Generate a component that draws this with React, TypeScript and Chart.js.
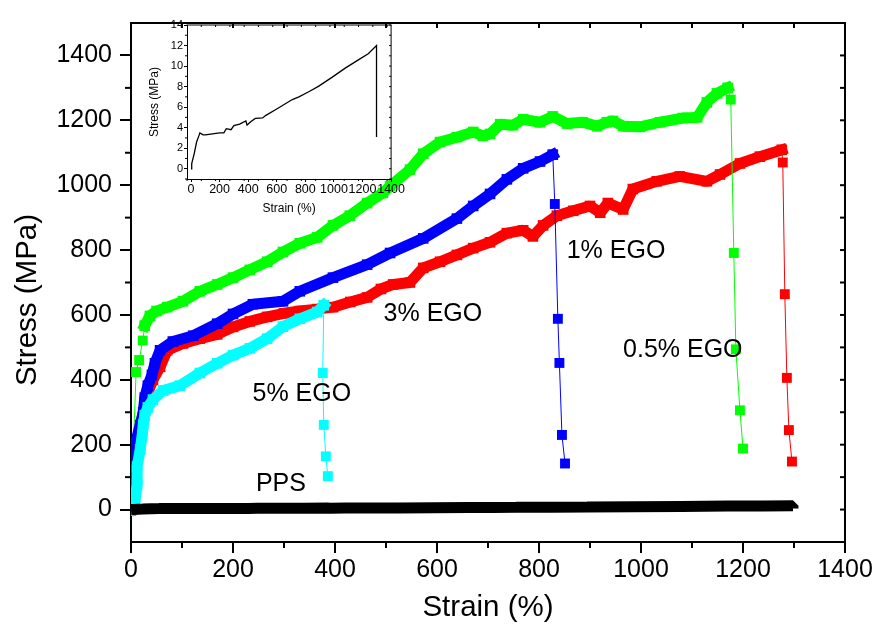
import React, { useEffect, useRef } from 'react';
import { Chart, registerables } from 'chart.js';

Chart.register(...registerables);

const FONT = '"Liberation Sans", Arial, Helvetica, sans-serif';

// ---------- tick labels ----------
const mainXTicks = [0, 200, 400, 600, 800, 1000, 1200, 1400];
const mainYTicks = [0, 200, 400, 600, 800, 1000, 1200, 1400];
const insetXTicks = [0, 200, 400, 600, 800, 1000, 1200, 1400];
const insetYTicks = [0, 2, 4, 6, 8, 10, 12, 14];

// ---------- PPS (strain %, stress MPa) ----------
const ppsStrain = [0, 5, 23, 39, 55, 62, 85, 100, 150, 200, 230, 247, 280, 300, 340, 384, 392, 420, 450, 501, 524, 594, 663, 709, 755, 824, 894, 986, 1079, 1171, 1240, 1298, 1298];
const ppsStress = [0, 0.5, 1.5, 2.6, 3.2, 3.48, 3.3, 3.3, 3.4, 3.5, 3.5, 3.9, 3.8, 4.2, 4.35, 4.65, 4.25, 4.6, 4.9, 4.95, 5.2, 5.77, 6.35, 6.74, 7.0, 7.5, 8.05, 8.9, 9.8, 10.6, 11.2, 12.0, 3.1];

// ---------- 0.5% EGO (green) ----------
const green05Rise = [[0, 0], [10, 424], [16, 461], [23, 521], [27, 567]];
const green05Band = [[27, 567], [37, 597], [50, 612], [71, 624], [102, 642], [135, 673], [169, 694], [200, 715], [233, 739], [267, 764], [298, 794], [331, 821], [365, 839], [396, 876], [429, 906], [463, 945], [494, 976], [508, 997], [547, 1048], [573, 1097], [606, 1133], [639, 1148], [671, 1164], [690, 1152], [704, 1158], [724, 1188], [749, 1185], [769, 1203], [802, 1194], [827, 1212], [855, 1190], [886, 1194], [914, 1182], [933, 1194], [945, 1198], [965, 1182], [998, 1180], [1037, 1194], [1082, 1207], [1110, 1209], [1129, 1255], [1149, 1283], [1170, 1300]];
const green05Drop = [[1170, 1300], [1176, 1264], [1182, 791], [1186, 494], [1194, 306], [1200, 188]];

// ---------- 3% EGO (red) ----------
const red3Band = [[0, 0], [6, 100], [12, 200], [18, 250], [24, 300], [33, 360], [43, 400], [57, 440], [71, 491], [102, 512], [135, 527], [169, 540], [200, 563], [233, 580], [267, 594], [300, 605], [331, 612], [365, 618], [396, 624], [430, 640], [463, 654], [490, 680], [514, 694], [547, 700], [573, 745], [606, 764], [639, 785], [671, 806], [704, 824], [737, 852], [769, 861], [788, 842], [808, 876], [835, 906], [867, 921], [900, 936], [920, 915], [935, 945], [965, 925], [984, 988], [1031, 1012], [1076, 1027], [1129, 1012], [1155, 1033], [1194, 1067], [1233, 1088], [1276, 1109]];
const red3Drop = [[1276, 1109], [1278, 1070], [1282, 664], [1286, 406], [1290, 245], [1296, 148]];

// ---------- 1% EGO (blue) ----------
const blue1Band = [[0, 0], [4, 120], [8, 200], [18, 261], [24, 300], [27, 345], [33, 382], [41, 415], [47, 451], [57, 491], [82, 518], [122, 536], [169, 573], [200, 603], [239, 633], [298, 642], [331, 673], [396, 715], [463, 755], [508, 791], [573, 836], [639, 897], [671, 936], [704, 973], [737, 1018], [769, 1052], [802, 1073], [827, 1094]];
const blue1Drop = [[827, 1094], [831, 942], [837, 588], [840, 452], [845, 230], [851, 142]];

// ---------- 5% EGO (cyan) ----------
const cyan5Band = [[0, 0], [8, 27], [12, 79], [12, 133], [18, 185], [22, 230], [24, 261], [27, 291], [33, 315], [43, 339], [63, 367], [96, 382], [135, 421], [169, 451], [200, 476], [233, 497], [267, 527], [298, 564], [331, 588], [365, 609], [378, 630]];
const cyan5Drop = [[378, 630], [376, 421], [378, 261], [382, 164], [386, 103]];

// ---------- annotations ----------
const labelTexts = ['1% EGO', '3% EGO', '0.5% EGO', '5% EGO', 'PPS'];
const labelX = [951, 592, 1082, 335, 294];
const labelY = [797, 603, 491, 355, 79];

const pairs = (a: number[][]) => a.map(([x, y]) => ({ x, y }));
const plain = (v: any) => String(v);

const frameTicks = {
  id: 'frameTicks',
  afterDraw(chart: any, _args: any, o: any) {
    const { ctx, chartArea: a, scales } = chart;
    const x = scales.x, y = scales.y;
    ctx.save();
    ctx.strokeStyle = '#000';
    ctx.lineWidth = o.lineWidth;
    const seg = (x1: number, y1: number, x2: number, y2: number) => {
      ctx.beginPath(); ctx.moveTo(x1, y1); ctx.lineTo(x2, y2); ctx.stroke();
    };
    seg(a.left - o.lineWidth / 2, a.top, a.right + o.lineWidth / 2, a.top);
    seg(a.right, a.top, a.right, a.bottom);
    for (let v = o.xFrom; v <= o.xTo + 1e-9; v += o.xStep) {
      const px = x.getPixelForValue(v);
      const isMajor = Math.abs(v / o.xMajor - Math.round(v / o.xMajor)) < 1e-6;
      if (!isMajor) seg(px, a.bottom, px, a.bottom + o.minorLen);
      if (v > o.xFrom && v < o.xTo) seg(px, a.top, px, a.top + o.innerLen);
    }
    for (let v = o.yFrom; v <= o.yTo + 1e-9; v += o.yStep) {
      const py = y.getPixelForValue(v);
      const isMajor = Math.abs(v / o.yMajor - Math.round(v / o.yMajor)) < 1e-6;
      if (!isMajor) seg(a.left, py, a.left - o.minorLen, py);
      seg(a.right, py, a.right - o.innerLen, py);
    }
    ctx.restore();
  },
};

const textLayer = {
  id: 'textLayer',
  afterDraw(chart: any, _args: any, o: any) {
    if (!o.enabled) return;
    const { ctx, scales } = chart;
    ctx.save();
    ctx.fillStyle = '#000';
    ctx.font = `${o.size}px ${FONT}`;
    ctx.textAlign = 'center';
    ctx.textBaseline = 'middle';
    labelTexts.forEach((t, i) => {
      ctx.fillText(t, scales.x.getPixelForValue(labelX[i]), scales.y.getPixelForValue(labelY[i]));
    });
    ctx.font = `${o.titleSize}px ${FONT}`;
    ctx.translate(o.titleX, o.titleY);
    ctx.rotate(-Math.PI / 2);
    ctx.fillText('Stress (MPa)', 0, 0);
    ctx.restore();
  },
};

function band(label: string, data: number[][], color: string, width: number) {
  return {
    label, data: pairs(data), borderColor: color, backgroundColor: color,
    borderWidth: width, pointStyle: 'rect', pointRadius: 7.5, pointBorderWidth: 0,
    pointBackgroundColor: color, borderJoinStyle: 'bevel', borderCapStyle: 'square', tension: 0,
  };
}
function thin(label: string, data: number[][], color: string) {
  return {
    label, data: pairs(data), borderColor: color, backgroundColor: color,
    borderWidth: 1, pointStyle: 'rect', pointRadius: 7, pointBorderWidth: 0,
    pointBackgroundColor: color, tension: 0,
  };
}

export default function App() {
  const mainRef = useRef<HTMLCanvasElement>(null);
  const insetRef = useRef<HTMLCanvasElement>(null);

  useEffect(() => {
    document.body.style.margin = '0';
    Chart.defaults.font.family = FONT;
    Chart.defaults.color = '#000';

    const ppsMain = ppsStrain.map((s, i) => [s, ppsStress[i]]);

    const main = new Chart(mainRef.current as HTMLCanvasElement, {
      type: 'line',
      data: {
        datasets: [
          { ...band('PPS', ppsMain, '#000000', 11), pointRadius: 0, borderCapStyle: 'butt' },
          thin('5% EGO drop', cyan5Drop, '#00FFFF'),
          band('5% EGO', cyan5Band, '#00FFFF', 11),
          thin('1% EGO drop', blue1Drop, '#0000FF'),
          band('1% EGO', blue1Band, '#0000FF', 11),
          thin('0.5% EGO drop', green05Drop, '#00FF00'),
          thin('0.5% EGO rise', green05Rise, '#00FF00'),
          band('0.5% EGO', green05Band, '#00FF00', 11),
          thin('3% EGO drop', red3Drop, '#FF0000'),
          band('3% EGO', red3Band, '#FF0000', 11),
        ] as any,
      },
      options: {
        responsive: false,
        animation: false,
        devicePixelRatio: 1,
        layout: { padding: { left: 0, right: 32, top: 13, bottom: 0 } },
        plugins: {
          legend: { display: false },
          tooltip: { enabled: false },
          frameTicks: { lineWidth: 2, xFrom: 0, xTo: 1400, xStep: 100, xMajor: 200, yFrom: 0, yTo: 1400, yStep: 100, yMajor: 200, minorLen: 6, innerLen: 5 },
          textLayer: { enabled: true, size: 25, titleSize: 29.5, titleX: 28, titleY: 300 },
        } as any,
        scales: {
          x: {
            type: 'linear', min: 0, max: 1400,
            afterBuildTicks: (s: any) => { s.ticks = mainXTicks.map((v) => ({ value: v })); },
            afterFit: (s: any) => { s.height = 92; },
            grid: { display: true, drawOnChartArea: false, drawTicks: true, tickLength: 11, color: '#000', lineWidth: 2 },
            border: { display: true, color: '#000', width: 2 },
            ticks: { font: { size: 25, family: FONT }, color: '#000', padding: 2, maxRotation: 0, autoSkip: false, callback: plain },
            title: { display: true, text: 'Strain (%)', font: { size: 29.5, family: FONT }, color: '#000', padding: { top: 0, bottom: 8 } },
          },
          y: {
            type: 'linear', min: -100, max: 1500,
            afterBuildTicks: (s: any) => { s.ticks = mainYTicks.map((v) => ({ value: v })); },
            afterFit: (s: any) => { s.width = 131; },
            grid: { display: true, drawOnChartArea: false, drawTicks: true, tickLength: 11, color: '#000', lineWidth: 2 },
            border: { display: true, color: '#000', width: 2 },
            ticks: { font: { size: 25, family: FONT }, color: '#000', padding: 8, autoSkip: false, callback: plain },
          },
        } as any,
      },
      plugins: [frameTicks, textLayer] as any,
    });

    const insetData = ppsStrain.map((s, i) => ({ x: s, y: ppsStress[i] }));
    const inset = new Chart(insetRef.current as HTMLCanvasElement, {
      type: 'line',
      data: {
        datasets: [{ label: 'PPS', data: insetData, borderColor: '#000', borderWidth: 1.3, pointRadius: 0, tension: 0 }] as any,
      },
      options: {
        responsive: false,
        animation: false,
        devicePixelRatio: 1,
        layout: { padding: { left: 0, right: 11, top: 10, bottom: 0 } },
        plugins: {
          legend: { display: false },
          tooltip: { enabled: false },
          frameTicks: { lineWidth: 1, xFrom: -28, xTo: 1400, xStep: 100, xMajor: 200, yFrom: -1, yTo: 14, yStep: 1, yMajor: 2, minorLen: 2, innerLen: 2 },
          textLayer: { enabled: false },
        } as any,
        scales: {
          x: {
            type: 'linear', min: -28, max: 1400,
            afterBuildTicks: (s: any) => { s.ticks = insetXTicks.map((v) => ({ value: v })); },
            afterFit: (s: any) => { s.height = 41; },
            grid: { display: true, drawOnChartArea: false, drawTicks: true, tickLength: 3, color: '#000', lineWidth: 1 },
            border: { display: true, color: '#000', width: 1 },
            ticks: { font: { size: 12.5, family: FONT }, color: '#000', padding: 0, maxRotation: 0, autoSkip: false, callback: plain },
            title: { display: true, text: 'Strain (%)', font: { size: 12, family: FONT }, color: '#000', padding: { top: 0, bottom: 4 } },
          },
          y: {
            type: 'linear', min: -1, max: 14,
            afterBuildTicks: (s: any) => { s.ticks = insetYTicks.map((v) => ({ value: v })); },
            afterFit: (s: any) => { s.width = 47; },
            grid: { display: true, drawOnChartArea: false, drawTicks: true, tickLength: 3, color: '#000', lineWidth: 1 },
            border: { display: true, color: '#000', width: 1 },
            ticks: { font: { size: 11, family: FONT }, color: '#000', padding: 1, autoSkip: false, callback: plain },
            title: { display: true, text: 'Stress (MPa)', font: { size: 12, family: FONT }, color: '#000', padding: { top: 7, bottom: 0 } },
          },
        } as any,
      },
      plugins: [frameTicks] as any,
    });

    return () => { main.destroy(); inset.destroy(); };
  }, []);

  return (
    <div style={{ position: 'absolute', left: 0, top: 0, width: 877, height: 634, background: '#ffffff' }}>
      <canvas ref={mainRef} width={877} height={634} style={{ position: 'absolute', left: 0, top: 0 }} />
      <canvas ref={insetRef} width={265} height={205} style={{ position: 'absolute', left: 140, top: 15 }} />
    </div>
  );
}
